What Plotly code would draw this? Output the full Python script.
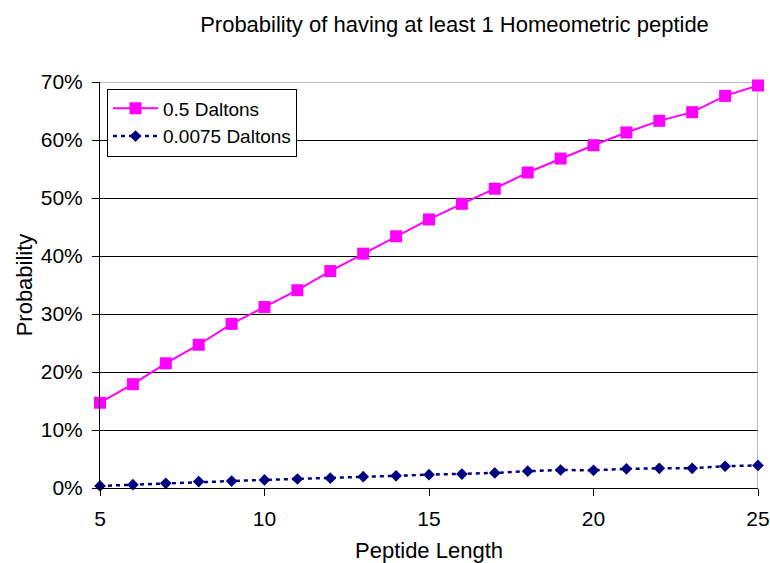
import plotly.graph_objects as go

# Peptide lengths on the x axis
peptide_length = list(range(5, 26))

# Probability (%) of at least one homeometric peptide, per mass tolerance
prob_05_da = [14.7, 17.9, 21.5, 24.7, 28.3, 31.2, 34.1, 37.4, 40.4, 43.4, 46.3,
              49.0, 51.6, 54.4, 56.8, 59.1, 61.3, 63.3, 64.8, 67.6, 69.4]
prob_00075_da = [0.35, 0.57, 0.8, 1.1, 1.2, 1.4, 1.55, 1.7, 1.95, 2.1, 2.3,
                 2.4, 2.6, 2.9, 3.1, 3.05, 3.3, 3.4, 3.4, 3.75, 3.9]

y_ticks = [0, 10, 20, 30, 40, 50, 60, 70]
x_ticks = [5, 10, 15, 20, 25]

FONT = "Arial, 'Liberation Sans', sans-serif"

fig = go.Figure()

fig.add_trace(go.Scatter(
    x=peptide_length, y=prob_05_da, name="0.5 Daltons",
    mode="lines+markers",
    line=dict(color="#FF00FF", width=2),
    marker=dict(symbol="square", size=12, color="#FF00FF"),
    cliponaxis=False,
))
fig.add_trace(go.Scatter(
    x=peptide_length, y=prob_00075_da, name="0.0075 Daltons",
    mode="lines+markers",
    line=dict(color="#000080", width=2.5, dash="4px,4px"),
    marker=dict(symbol="diamond", size=9, color="#000080"),
    cliponaxis=False,
))

# grey plot-area border on the top and right edges
fig.add_shape(type="line", xref="x", yref="y", x0=5, x1=25, y0=70, y1=70,
              line=dict(color="#808080", width=1), layer="between")
fig.add_shape(type="line", xref="x", yref="y", x0=25, x1=25, y0=0, y1=70,
              line=dict(color="#808080", width=1), layer="between")

fig.update_layout(
    width=770, height=563,
    margin=dict(l=100, r=12, t=82, b=75),
    paper_bgcolor="white", plot_bgcolor="white",
    font=dict(family=FONT, color="black", size=21),
    title=dict(text="Probability of having at least 1 Homeometric peptide",
               x=454.5 / 770, xref="container", xanchor="center",
               y=1 - 24 / 563, yref="container", yanchor="middle",
               font=dict(family=FONT, size=22, color="black")),
    showlegend=True,
    legend=dict(x=7 / 658, y=(488 - 122.5) / 406, xanchor="left", yanchor="middle",
                bgcolor="white", bordercolor="black", borderwidth=1,
                font=dict(family=FONT, size=19, color="black"),
                itemwidth=45, tracegroupgap=0),
    xaxis=dict(
        range=[5, 25], tickvals=x_ticks, ticktext=[str(v) for v in x_ticks],
        showline=True, linecolor="black", linewidth=1,
        ticks="outside", ticklen=7, tickcolor="black",
        showgrid=False, zeroline=False, automargin=False,
        tickfont=dict(size=21), ticklabelstandoff=5,
        title=dict(text="Peptide Length", font=dict(size=22), standoff=14),
    ),
    yaxis=dict(
        range=[0, 70], tickvals=y_ticks, ticktext=[f"{v}%" for v in y_ticks],
        showline=True, linecolor="black", linewidth=1,
        ticks="outside", ticklen=7, tickcolor="black",
        showgrid=True, gridcolor="black", gridwidth=1, zeroline=False,
        automargin=False,
        tickfont=dict(size=21), ticklabelstandoff=5,
        title=dict(text="Probability", font=dict(size=22), standoff=2),
    ),
)

fig.write_html("out.html")
